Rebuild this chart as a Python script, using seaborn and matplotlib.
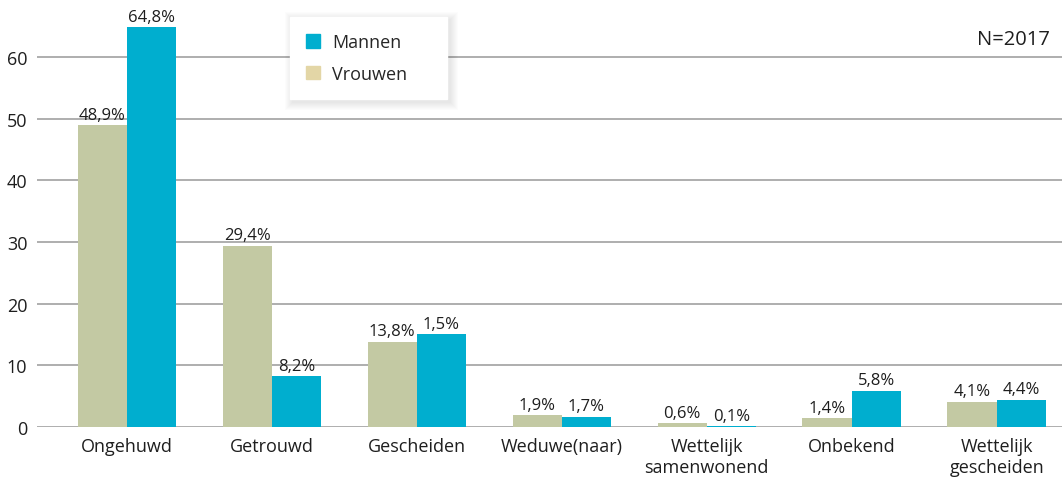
import pandas as pd
import matplotlib
matplotlib.use('Agg')
import matplotlib.pyplot as plt
from matplotlib.patches import Patch, Rectangle
import seaborn as sns

# burgerlijke staat naar geslacht (percentages, zoals in de figuur)
categories = ['Ongehuwd', 'Getrouwd', 'Gescheiden', 'Weduwe(naar)',
              'Wettelijk\nsamenwonend', 'Onbekend', 'Wettelijk\ngescheiden']
vrouwen = [48.9, 29.4, 13.8, 1.9, 0.6, 1.4, 4.1]
mannen = [64.8, 8.2, 15.0, 1.7, 0.1, 5.8, 4.4]
vrouwen_labels = ['48,9%', '29,4%', '13,8%', '1,9%', '0,6%', '1,4%', '4,1%']
mannen_labels = ['64,8%', '8,2%', '1,5%', '1,7%', '0,1%', '5,8%', '4,4%']
y_ticks = [0, 10, 20, 30, 40, 50, 60]

col_vrouwen = '#c3c9a3'
col_vrouwen_legend = '#e3d6a6'
col_mannen = '#00aecf'
txt = '#1e1e1e'

df = pd.DataFrame({
    'categorie': categories * 2,
    'waarde': vrouwen + mannen,
    'geslacht': ['Vrouwen'] * len(categories) + ['Mannen'] * len(categories),
})

sns.set_style('white')
plt.rcParams['font.family'] = ['Open Sans', 'DejaVu Sans']

W, H = 1062, 489
fig = plt.figure(figsize=(W / 100, H / 100), dpi=100)
ax = fig.add_axes([37 / W, 1 - 428 / H, 1 - 37 / W, 428 / H - 8 / H])

sns.barplot(data=df, x='categorie', y='waarde', hue='geslacht',
            hue_order=['Vrouwen', 'Mannen'],
            palette={'Vrouwen': col_vrouwen, 'Mannen': col_mannen},
            width=0.68, gap=0, saturation=1, linewidth=0, legend=False, ax=ax, zorder=3)

for cont, labs in zip(ax.containers, [vrouwen_labels, mannen_labels]):
    ax.bar_label(cont, labels=labs, padding=2, fontsize=12, color=txt)

ax.set_xlim(-0.62, 6.45)
ax.set_ylim(0, 68.1)
ax.set_yticks(y_ticks)
ax.yaxis.grid(True, color='#a8a8a8', linewidth=1.3, zorder=0)
ax.set_axisbelow(True)
for s in ax.spines.values():
    s.set_visible(False)
ax.tick_params(axis='both', length=0, labelsize=13, colors=txt)
ax.tick_params(axis='y', pad=7)
ax.tick_params(axis='x', pad=7)
ax.set_xlabel('')
ax.set_ylabel('')

# legenda met zachte schaduw
lx, ly, lw, lh = 290, 18, 157, 82
for i in range(1, 9):
    fig.patches.append(Rectangle(((lx - i + 3) / W, 1 - (ly + lh + i + 3) / H),
                                 (lw + 2 * i) / W, (lh + 2 * i) / H,
                                 transform=fig.transFigure, facecolor='#000000',
                                 edgecolor='none', alpha=0.012, zorder=4))
handles = [Patch(color=col_mannen, label='Mannen'),
           Patch(color=col_vrouwen_legend, label='Vrouwen')]
leg = fig.legend(handles=handles, loc='upper left', mode='expand',
                 bbox_to_anchor=(lx / W, 1 - (ly + lh) / H, lw / W, lh / H),
                 frameon=True, fancybox=False, fontsize=13,
                 handlelength=0.75, handleheight=0.75, handletextpad=0.7,
                 labelspacing=0.75, borderpad=0.9, borderaxespad=0)
leg.get_frame().set_facecolor('white')
leg.get_frame().set_edgecolor('white')
leg.get_frame().set_alpha(1)
leg.set_zorder(5)

fig.text(1050 / W, 1 - 40 / H, 'N=2017', ha='right', va='center',
         fontsize=14.5, color=txt)

fig.savefig('out.png', dpi=100)
